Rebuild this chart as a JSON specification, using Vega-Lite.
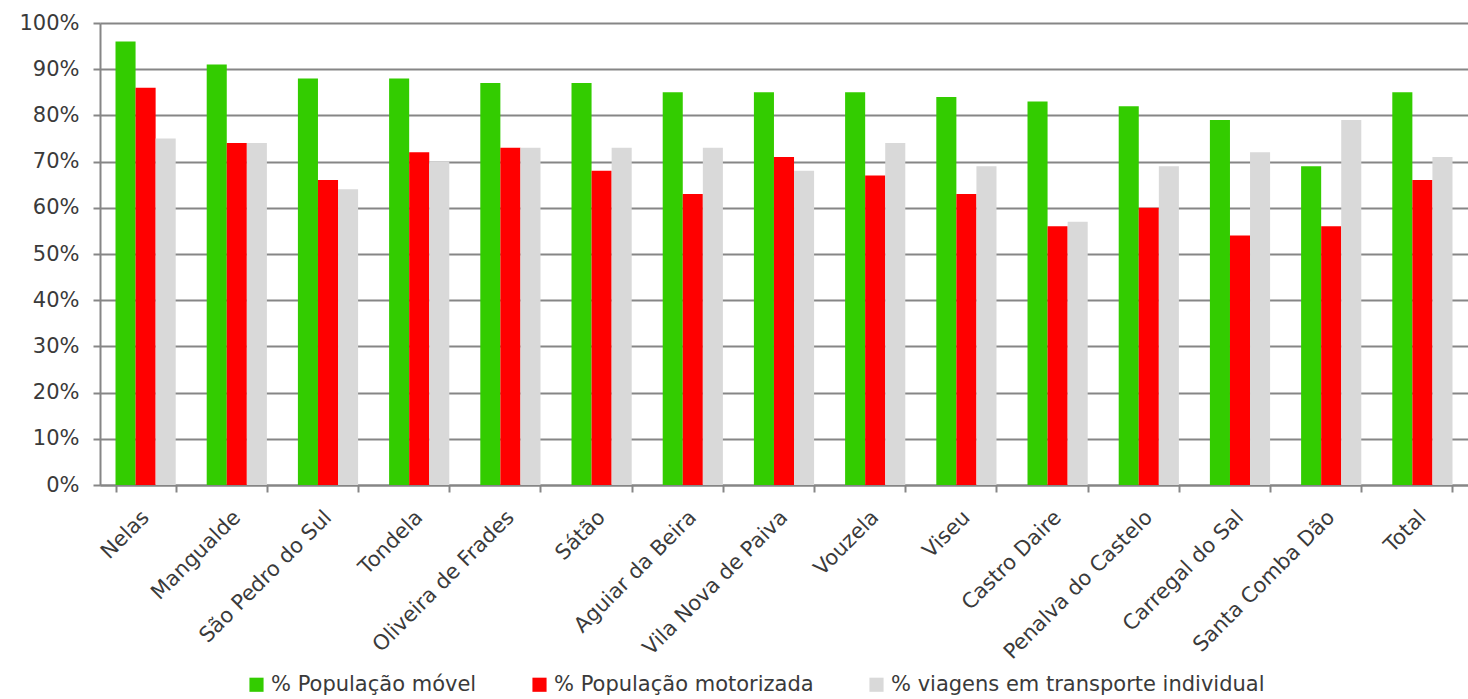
{
  "$schema": "https://vega.github.io/schema/vega-lite/v6.json",
  "autosize": {"type": "none"},
  "width": 1368,
  "height": 462,
  "padding": {"left": 100, "top": 23, "right": 0, "bottom": 214},
  "background": "white",
  "config": {
    "view": {"stroke": null},
    "font": "DejaVu Sans",
    "axis": {"labelFont": "DejaVu Sans", "labelColor": "#3a3a3a", "labelFontSize": 21, "labelLimit": 0, "domainColor": "#868686", "domainWidth": 2, "tickColor": "#868686", "tickWidth": 2, "gridColor": "#868686", "gridWidth": 2, "tickSize": 7, "titleFontSize": 0},
    "legend": {"labelFont": "DejaVu Sans", "labelColor": "#3a3a3a", "labelFontSize": 21, "labelLimit": 0}
  },
  "data": {
    "values": [
      {"municipio": "Nelas", "serie": "% População móvel", "valor": 96},
      {"municipio": "Nelas", "serie": "% População motorizada", "valor": 86},
      {"municipio": "Nelas", "serie": "% viagens em transporte individual", "valor": 75},
      {"municipio": "Mangualde", "serie": "% População móvel", "valor": 91},
      {"municipio": "Mangualde", "serie": "% População motorizada", "valor": 74},
      {"municipio": "Mangualde", "serie": "% viagens em transporte individual", "valor": 74},
      {"municipio": "São Pedro do Sul", "serie": "% População móvel", "valor": 88},
      {"municipio": "São Pedro do Sul", "serie": "% População motorizada", "valor": 66},
      {"municipio": "São Pedro do Sul", "serie": "% viagens em transporte individual", "valor": 64},
      {"municipio": "Tondela", "serie": "% População móvel", "valor": 88},
      {"municipio": "Tondela", "serie": "% População motorizada", "valor": 72},
      {"municipio": "Tondela", "serie": "% viagens em transporte individual", "valor": 70},
      {"municipio": "Oliveira de Frades", "serie": "% População móvel", "valor": 87},
      {"municipio": "Oliveira de Frades", "serie": "% População motorizada", "valor": 73},
      {"municipio": "Oliveira de Frades", "serie": "% viagens em transporte individual", "valor": 73},
      {"municipio": "Sátão", "serie": "% População móvel", "valor": 87},
      {"municipio": "Sátão", "serie": "% População motorizada", "valor": 68},
      {"municipio": "Sátão", "serie": "% viagens em transporte individual", "valor": 73},
      {"municipio": "Aguiar da Beira", "serie": "% População móvel", "valor": 85},
      {"municipio": "Aguiar da Beira", "serie": "% População motorizada", "valor": 63},
      {"municipio": "Aguiar da Beira", "serie": "% viagens em transporte individual", "valor": 73},
      {"municipio": "Vila Nova de Paiva", "serie": "% População móvel", "valor": 85},
      {"municipio": "Vila Nova de Paiva", "serie": "% População motorizada", "valor": 71},
      {"municipio": "Vila Nova de Paiva", "serie": "% viagens em transporte individual", "valor": 68},
      {"municipio": "Vouzela", "serie": "% População móvel", "valor": 85},
      {"municipio": "Vouzela", "serie": "% População motorizada", "valor": 67},
      {"municipio": "Vouzela", "serie": "% viagens em transporte individual", "valor": 74},
      {"municipio": "Viseu", "serie": "% População móvel", "valor": 84},
      {"municipio": "Viseu", "serie": "% População motorizada", "valor": 63},
      {"municipio": "Viseu", "serie": "% viagens em transporte individual", "valor": 69},
      {"municipio": "Castro Daire", "serie": "% População móvel", "valor": 83},
      {"municipio": "Castro Daire", "serie": "% População motorizada", "valor": 56},
      {"municipio": "Castro Daire", "serie": "% viagens em transporte individual", "valor": 57},
      {"municipio": "Penalva do Castelo", "serie": "% População móvel", "valor": 82},
      {"municipio": "Penalva do Castelo", "serie": "% População motorizada", "valor": 60},
      {"municipio": "Penalva do Castelo", "serie": "% viagens em transporte individual", "valor": 69},
      {"municipio": "Carregal do Sal", "serie": "% População móvel", "valor": 79},
      {"municipio": "Carregal do Sal", "serie": "% População motorizada", "valor": 54},
      {"municipio": "Carregal do Sal", "serie": "% viagens em transporte individual", "valor": 72},
      {"municipio": "Santa Comba Dão", "serie": "% População móvel", "valor": 69},
      {"municipio": "Santa Comba Dão", "serie": "% População motorizada", "valor": 56},
      {"municipio": "Santa Comba Dão", "serie": "% viagens em transporte individual", "valor": 79},
      {"municipio": "Total", "serie": "% População móvel", "valor": 85},
      {"municipio": "Total", "serie": "% População motorizada", "valor": 66},
      {"municipio": "Total", "serie": "% viagens em transporte individual", "valor": 71}
    ]
  },
  "mark": {"type": "bar"},
  "encoding": {
    "x": {
      "field": "municipio", "type": "nominal", "sort": null,
      "scale": {"paddingInner": 0.34, "paddingOuter": 0.17},
      "axis": {"title": null, "labelAngle": -45, "labelAlign": "right", "labelBaseline": "middle", "tickBand": "extent", "labelPadding": 22, "labelLimit": 0}
    },
    "xOffset": {"field": "serie", "type": "nominal", "sort": null},
    "y": {
      "field": "valor", "type": "quantitative",
      "scale": {"domain": [0, 100], "nice": false},
      "axis": {"title": null, "values": [0,10,20,30,40,50,60,70,80,90,100], "labelExpr": "datum.value + '%'", "labelPadding": 14}
    },
    "color": {
      "field": "serie", "type": "nominal", "sort": null,
      "scale": {"domain": ["% População móvel", "% População motorizada", "% viagens em transporte individual"], "range": ["#33cc00", "#ff0000", "#d9d9d9"]},
      "legend": {"title": null, "orient": "none", "legendX": 146, "legendY": 651, "direction": "horizontal", "symbolType": "square", "symbolSize": 200, "symbolStrokeWidth": 0, "columnPadding": 52, "labelOffset": 4}
    }
  }
}
